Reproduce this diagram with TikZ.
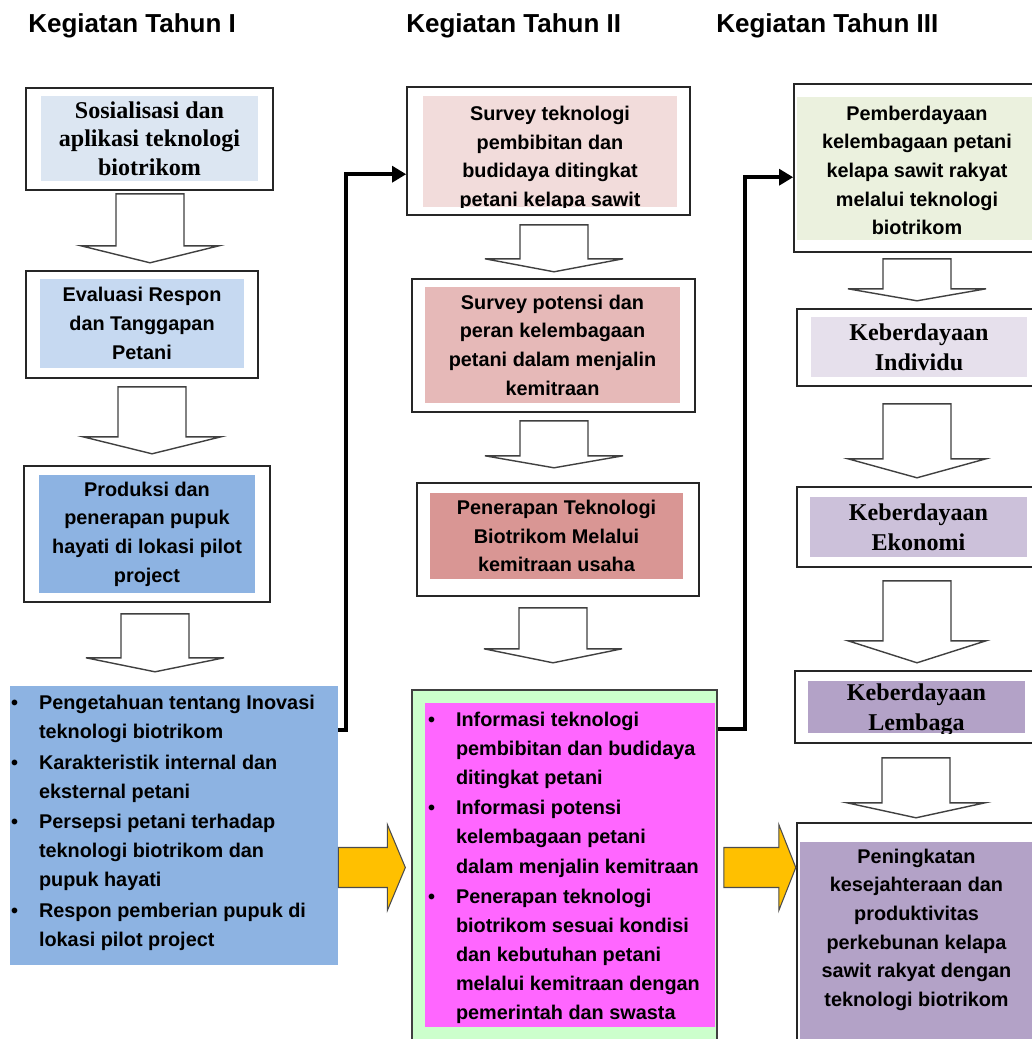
\documentclass[tikz,border=0pt]{standalone}
\usepackage{fontspec}
\setmainfont{Liberation Sans}
\newfontfamily\timesfont{Liberation Serif}
\usetikzlibrary{arrows.meta,positioning,fit,calc}

\definecolor{paleblue}{HTML}{DCE6F2}
\definecolor{lightblue}{HTML}{C6D9F1}
\definecolor{midblue}{HTML}{8DB3E2}
\definecolor{palerose}{HTML}{F2DCDB}
\definecolor{lightrose}{HTML}{E6B9B8}
\definecolor{midrose}{HTML}{D99694}
\definecolor{mintgreen}{HTML}{CCFFCC}
\definecolor{pinkfill}{HTML}{FF66FF}
\definecolor{palegreen}{HTML}{EBF1DE}
\definecolor{palelilac}{HTML}{E6E0EC}
\definecolor{lightlilac}{HTML}{CCC1DA}
\definecolor{midlilac}{HTML}{B3A2C7}
\definecolor{arrowgold}{HTML}{FFC000}

\begin{document}
\begin{tikzpicture}
   [x=0.02cm, y=-0.02cm,
    outer/.style={draw=black!85, line width=0.9pt, fill=white, inner sep=0pt},
    shade/.style={inner sep=0pt},
    heading/.style={font=\bfseries\fontsize{14.8}{18}\selectfont, inner sep=0pt, anchor=base west},
    boxsans/.style={font=\bfseries\fontsize{11.3}{16.3}\selectfont, align=center, inner sep=0pt},
    boxserif/.style={font=\timesfont\bfseries\fontsize{13.7}{16.3}\selectfont, align=center, inner sep=0pt},
    listsans/.style={font=\bfseries\fontsize{11.3}{16.5}\selectfont, inner sep=0pt},
    hollow/.style={draw=black!75, line width=0.8pt, fill=white},
    goldline/.style={draw=black!70, line width=0.6pt, fill=arrowgold},
    link/.style={line width=2.3pt, -{Triangle[length=8pt,width=9pt]}},
    pics/blockdown/.style 2 args={code={
      \draw[hollow] (-34,0) -- (34,0) -- (34,#1) -- (69,#1) -- (0,#1+#2) -- (-69,#1) -- (-34,#1) -- cycle;
    }},
    pics/goldright/.style 2 args={code={
      \draw[goldline] (0,-20) -- (#1,-20) -- (#1,-43) -- (#1+#2,0) -- (#1,43) -- (#1,20) -- (0,20) -- cycle;
    }}]
     \useasboundingbox (0,0) rectangle (1032,1039);
     % draw headings
     \foreach \x/\n/\r in {28/1/I, 406/2/II, 716/3/III} {
       \node[heading] (t\n) at (\x,32) {Kegiatan Tahun \r};
     };

     % draw year one
     \node[outer, fit={(26,88) (273,190)}] (a1) {};
     \node[shade, fill=paleblue, fit={(41,96) (258,181)}] (a1f) {};
     \node[boxserif] (a1t) at (a1f.center) {Sosialisasi dan\\aplikasi teknologi\\biotrikom};
     \node[outer, fit={(26,271) (258,378)}] (a2) {};
     \node[shade, fill=lightblue, fit={(40,279) (244,368)}] (a2f) {};
     \node[boxsans] (a2t) at (a2f.center) {Evaluasi Respon\\dan Tanggapan\\Petani};
     \node[outer, fit={(24,466) (270,602)}] (a3) {};
     \node[shade, fill=midblue, fit={(39,475) (255,593)}] (a3f) {};
     \node[boxsans] (a3t) at (a3f.center) {Produksi dan\\penerapan pupuk\\hayati di lokasi pilot\\project};
     \node[shade, fill=midblue, fit={(10,686) (338,965)}] (a4) {};
     \node[listsans, anchor=north west] (a4t) at ($(a4.north west)+(1,3)$) {%
       \begin{tabular}{@{}l@{\hspace{12pt}}l@{}}
       \textbullet & Pengetahuan tentang Inovasi\\
                   & teknologi biotrikom\\[1pt]
       \textbullet & Karakteristik internal dan\\
                   & eksternal petani\\[1pt]
       \textbullet & Persepsi petani terhadap\\
                   & teknologi biotrikom dan\\
                   & pupuk hayati\\[1pt]
       \textbullet & Respon pemberian pupuk di\\
                   & lokasi pilot project
       \end{tabular}};
     \pic at ($(a1.south)+(0.5,3)$) {blockdown={52}{17}};
     \pic at ($(a2.south)+(10,8)$) {blockdown={50}{17}};
     \pic at ($(a3.south)+(8,11)$) {blockdown={44}{14}};

     % draw year two
     \node[outer, fit={(407,87) (690,215)}] (b1) {};
     \node[shade, fill=palerose, fit={(423,96) (677,207)}] (b1f) {};
     \begin{scope}
       \clip (b1f.north west) rectangle (b1f.south east);
       \node[boxsans] (b1t) at ($(b1f.center)+(0,7)$) {Survey teknologi\\pembibitan dan\\budidaya ditingkat\\petani kelapa sawit};
     \end{scope}
     \node[outer, fit={(412,279) (695,412)}] (b2) {};
     \node[shade, fill=lightrose, fit={(425,287) (680,403)}] (b2f) {};
     \node[boxsans] (b2t) at (b2f.center) {Survey potensi dan\\peran kelembagaan\\petani dalam menjalin\\kemitraan};
     \node[outer, fit={(417,483) (699,596)}] (b3) {};
     \node[shade, fill=midrose, fit={(430,493) (683,579)}] (b3f) {};
     \node[boxsans] (b3t) at (b3f.center) {Penerapan Teknologi\\Biotrikom Melalui\\kemitraan usaha};
     \node[outer, draw=black!75, fill=mintgreen, fit={(412,690) (717,1045)}] (b4) {};
     \node[shade, fill=pinkfill, fit={(425,703) (715,1027)}] (b4f) {};
     \node[listsans, font=\bfseries\fontsize{11.3}{16.6}\selectfont, anchor=north west] (b4t) at ($(b4f.north west)+(3,3)$) {%
       \begin{tabular}{@{}l@{\hspace{12pt}}l@{}}
       \textbullet & Informasi teknologi\\
                   & pembibitan dan budidaya\\
                   & ditingkat petani\\[0.5pt]
       \textbullet & Informasi potensi\\
                   & kelembagaan petani\\
                   & dalam menjalin kemitraan\\[0.5pt]
       \textbullet & Penerapan teknologi\\
                   & biotrikom sesuai kondisi\\
                   & dan kebutuhan petani\\
                   & melalui kemitraan dengan\\
                   & pemerintah dan swasta
       \end{tabular}};
     \pic at ($(b1.south)+(5.5,9)$) {blockdown={34}{13}};
     \pic at ($(b2.south)+(0.5,8)$) {blockdown={35}{12}};
     \pic at ($(b3.south)+(-5,11)$) {blockdown={41}{14}};

     % draw year three
     \node[outer, fit={(794,84) (1040,252)}] (c1) {};
     \node[shade, fill=palegreen, fit={(797,97) (1040,240)}] (c1f) {};
     \node[boxsans] (c1t) at ($(c1f.center)+(-1.5,2)$) {Pemberdayaan\\kelembagaan petani\\kelapa sawit rakyat\\melalui teknologi\\biotrikom};
     \node[outer, fit={(797,309) (1040,386)}] (c2) {};
     \node[shade, fill=palelilac, fit={(811,317) (1027,377)}] (c2f) {};
     \node[boxserif, font=\timesfont\bfseries\fontsize{13.7}{17.1}\selectfont] (c2t) at (c2f.center) {Keberdayaan\\Individu};
     \node[outer, fit={(797,487) (1040,567)}] (c3) {};
     \node[shade, fill=lightlilac, fit={(810,497) (1027,557)}] (c3f) {};
     \node[boxserif, font=\timesfont\bfseries\fontsize{13.7}{17.1}\selectfont] (c3t) at (c3f.center) {Keberdayaan\\Ekonomi};
     \node[outer, fit={(795,671) (1040,743)}] (c4) {};
     \node[shade, fill=midlilac, fit={(808,681) (1025,733)}] (c4f) {};
     \begin{scope}
       \clip (c4f.north west) rectangle (c4f.south east);
       \node[boxserif, font=\timesfont\bfseries\fontsize{13.7}{17.1}\selectfont] (c4t) at ($(c4f.center)+(0,2.5)$) {Keberdayaan\\Lembaga};
     \end{scope}
     \node[outer, fit={(797,823) (1040,1045)}] (c5) {};
     \node[shade, fill=midlilac, fit={(800,842) (1040,1045)}] (c5f) {};
     \node[boxsans] (c5t) at ($(c5f.north)+(-3.5,88)$) {Peningkatan\\kesejahteraan dan\\produktivitas\\perkebunan kelapa\\sawit rakyat dengan\\teknologi biotrikom};
     \pic at ($(c1.south)+(0,6)$) {blockdown={30}{12}};
     \pic at ($(c2.south)+(-1.5,17)$) {blockdown={55}{19}};
     \pic at ($(c3.south)+(-1.5,13)$) {blockdown={60}{22}};
     \pic at ($(c4.south)+(-1.5,14)$) {blockdown={45}{15}};

     % draw links between years
     \draw[link] ($(a4.north east)+(0,44)$) -- ++(8,0) |- ($(b1.north west)+(0,88)$);
     \draw[link] ($(b4.north east)+(0,40)$) -- ++(27,0) |- ($(c1.north west)+(0,94)$);
     \pic at (a4.east |- b4.west) {goldright={49}{18}};
     \pic at ($(b4.east)+(6,0)$) {goldright={55}{17}};
\end{tikzpicture}
\end{document}
